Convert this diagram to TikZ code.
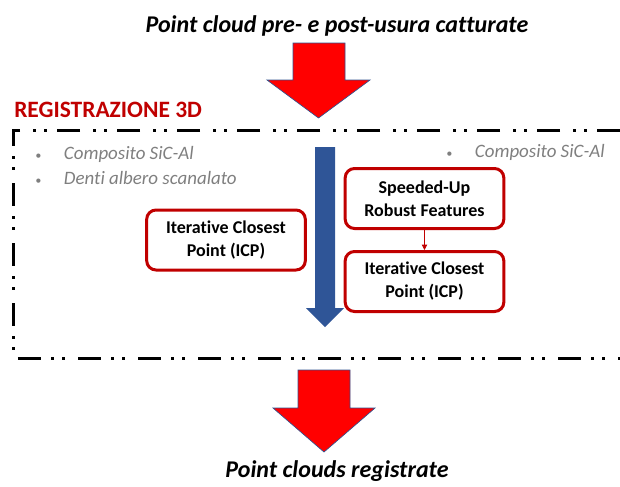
\documentclass[tikz,border=0pt]{standalone}
\usepackage{fontspec}
\setmainfont{Carlito}[Ligatures=NoCommon]
\usetikzlibrary{positioning,arrows.meta}

\definecolor{darkred}{RGB}{192,0,0}
\definecolor{darkblue}{RGB}{47,85,151}
\definecolor{edgeblue}{RGB}{47,82,143}
\definecolor{bulletgray}{RGB}{127,127,127}

\tikzstyle{method} = [align=center,draw=darkred,line width=2.25pt,rounded corners=7pt,font=\fontsize{13.5}{17.25}\selectfont\bfseries,minimum width=119pt,minimum height=45pt,inner sep=0pt]
\tikzstyle{caption} = [font=\fontsize{18}{22}\selectfont\bfseries\itshape,inner sep=0pt]
\tikzstyle{notes} = [align=left,anchor=west,text=bulletgray,font=\fontsize{14.2}{18.75}\selectfont\itshape,inner sep=0pt]
\tikzstyle{bigarrow} = [fill=red,draw=edgeblue,line width=0.5pt]

\newcommand{\bul}{\makebox[21.5pt][l]{\fontsize{9}{9}\selectfont\textbullet}}

\begin{document}
\begin{tikzpicture}[x=0.75pt,y=-0.75pt,node distance=62.25pt]
	\useasboundingbox (0,0) rectangle (620,486);
	% titles
	\node (input) [caption] at (337,26) {Point cloud pre- e post-usura catturate};
	\node (output) [caption] at (337,471) {Point clouds registrate};
	\node (reg) [anchor=west,inner sep=0pt,text=darkred,font=\fontsize{17.6}{20}\selectfont\bfseries] at (14,110) {REGISTRAZIONE 3D};
	% dash-dot-dot frame
	\draw [line width=2.25pt,dash pattern=on 17pt off 8pt on 2.2pt off 6pt on 2.2pt off 9.6pt] (620,130) -- (13,130) -- (13,358) -- (620,358);
	% block arrows
	\filldraw [bigarrow] (293,43) -- (345,43) -- (345,80) -- (370,80) -- (318.5,118) -- (267,80) -- (293,80) -- cycle;
	\filldraw [bigarrow] (298,370) -- (350,370) -- (350,408) -- (375,408) -- (324,452) -- (273,408) -- (298,408) -- cycle;
	\fill [darkblue] (315,147) -- (335,147) -- (335,308) -- (344,308) -- (325,327) -- (306,308) -- (315,308) -- cycle;
	% bullet notes
	\node (notesl) [notes] at (35,165.5) {\bul Composito SiC-Al\\\bul Denti albero scanalato};
	\node (notesr) [notes] at (446,152) {\bul Composito SiC-Al};
	% methods
	\node (icpl) [method] at (226,240) {Iterative Closest\\Point (ICP)};
	\node (surf) [method] at (424.5,198.5) {Speeded-Up\\Robust Features};
	\node (icpr) [method,below of=surf] {Iterative Closest\\Point (ICP)};
	\draw [-{Triangle[length=4pt,width=4pt]},draw=darkred,fill=darkred,line width=0.6pt] (surf) -- (icpr);
\end{tikzpicture}
\end{document}
